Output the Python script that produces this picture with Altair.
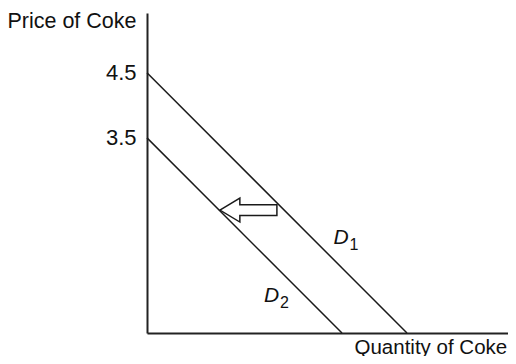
import altair as alt
import pandas as pd

# Demand curves (quantity, price) endpoints
d1_q = [0.0, 4.0]
d1_p = [4.5, 0.5]
d2_q = [0.0, 3.0]
d2_p = [3.5, 0.5]

price_ticks = [4.5, 3.5]

# Curve labels
label_text = ["D", "D"]
label_sub = ["1", "2"]
label_q = [2.87, 1.80]
label_p = [1.87, 0.977]

# Shift arrow (center position)
arrow_q = [1.56]
arrow_p = [2.39]

lines = pd.DataFrame({
    "q": d1_q + d2_q,
    "p": d1_p + d2_p,
    "curve": ["D1", "D1", "D2", "D2"],
})
labels = pd.DataFrame({"q": label_q, "p": label_p, "t": label_text, "s": label_sub})
arrow = pd.DataFrame({"q": arrow_q, "p": arrow_p})

FONT = "Liberation Sans"
PLOT_W = 361
xs = alt.Scale(domain=[0, PLOT_W / 65.0], nice=False, zero=False)
ys = alt.Scale(domain=[0.5, 5.42], nice=False, zero=False)

x_axis = alt.Axis(
    title="Quantity of Coke", values=[], ticks=False, labels=False, grid=False,
    domainColor="#222", domainWidth=2,
    titleFont=FONT, titleFontSize=20.5, titleFontWeight="normal", titleColor="#111",
    titleAlign="left", titleBaseline="alphabetic", titleX=207, titleY=20,
)
y_axis = alt.Axis(
    title="Price of Coke", values=price_ticks, format=".1f", ticks=False, grid=False,
    domainColor="#222", domainWidth=2,
    labelFont=FONT, labelFontSize=22, labelColor="#111", labelPadding=11,
    titleFont=FONT, titleFontSize=21.5, titleFontWeight="normal", titleColor="#111",
    titleAngle=0, titleAlign="right", titleBaseline="alphabetic", titleX=-11, titleY=14,
)

base = alt.Chart(lines).mark_line(color="#1a1a1a", strokeWidth=1.5, clip=False).encode(
    x=alt.X("q:Q", scale=xs, axis=x_axis),
    y=alt.Y("p:Q", scale=ys, axis=y_axis),
    detail="curve:N",
)

d_text = alt.Chart(labels).mark_text(
    font=FONT, fontSize=21, fontStyle="italic", align="left", baseline="alphabetic", color="#111"
).encode(x=alt.X("q:Q", scale=xs), y=alt.Y("p:Q", scale=ys), text="t:N")

d_sub = alt.Chart(labels).mark_text(
    font=FONT, fontSize=16, align="left", baseline="alphabetic", color="#111", dx=16, dy=6
).encode(x=alt.X("q:Q", scale=xs), y=alt.Y("p:Q", scale=ys), text="s:N")

arrow_shape = "M -1 0 L -0.3 -0.42 L -0.3 -0.19 L 1 -0.19 L 1 0.19 L -0.3 0.19 L -0.3 0.42 Z"
arr = alt.Chart(arrow).mark_point(
    shape=arrow_shape, size=3249, filled=True, fill="white", stroke="#1a1a1a",
    strokeWidth=1.5, opacity=1,
).encode(x=alt.X("q:Q", scale=xs), y=alt.Y("p:Q", scale=ys))

chart = alt.layer(base, arr, d_text, d_sub).properties(
    width=PLOT_W, height=320,
    background="white",
    autosize=alt.AutoSizeParams(type="none"),
    padding={"left": 139, "top": 5, "right": 0, "bottom": 23},
).configure_view(strokeOpacity=0, strokeWidth=0)

chart.save("out.html", embed_options={"renderer": "svg", "actions": False})
